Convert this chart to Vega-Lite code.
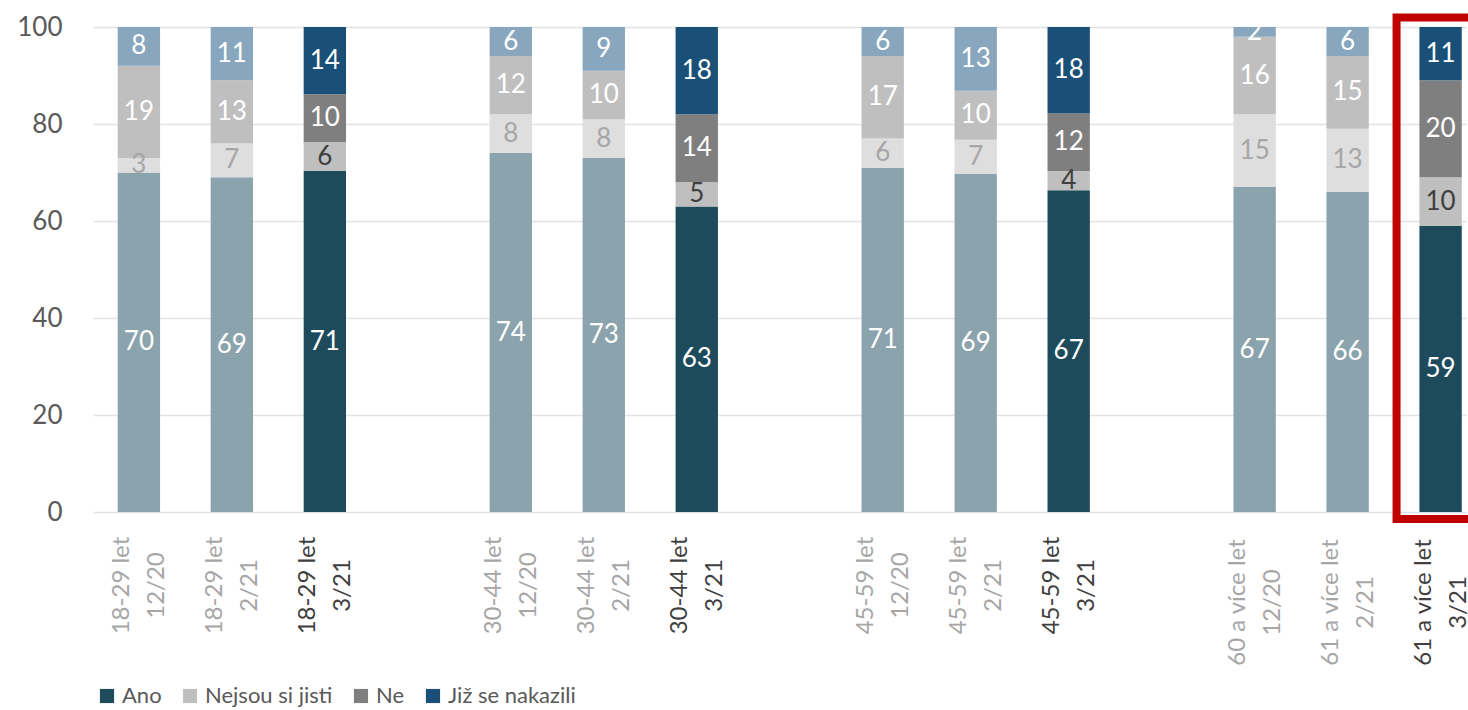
{
  "$schema": "https://vega.github.io/schema/vega-lite/v6.json",
  "width": 1373,
  "height": 485,
  "autosize": {"type": "none"},
  "padding": {"left": 93, "top": 27, "right": 2, "bottom": 198},
  "config": {"font": "Lato", "view": {"stroke": null}},
  "data": {"values": [
    {"g": "18-29 let|12/20", "i": 1, "s": "Ano (dříve)", "v": 70},
    {"g": "18-29 let|12/20", "i": 2, "s": "Nejsou si jisti (dříve)", "v": 3},
    {"g": "18-29 let|12/20", "i": 3, "s": "Ne (dříve)", "v": 19},
    {"g": "18-29 let|12/20", "i": 4, "s": "Již se nakazili (dříve)", "v": 8},
    {"g": "18-29 let|2/21", "i": 1, "s": "Ano (dříve)", "v": 69},
    {"g": "18-29 let|2/21", "i": 2, "s": "Nejsou si jisti (dříve)", "v": 7},
    {"g": "18-29 let|2/21", "i": 3, "s": "Ne (dříve)", "v": 13},
    {"g": "18-29 let|2/21", "i": 4, "s": "Již se nakazili (dříve)", "v": 11},
    {"g": "18-29 let|3/21", "i": 1, "s": "Ano", "v": 71},
    {"g": "18-29 let|3/21", "i": 2, "s": "Nejsou si jisti", "v": 6},
    {"g": "18-29 let|3/21", "i": 3, "s": "Ne", "v": 10},
    {"g": "18-29 let|3/21", "i": 4, "s": "Již se nakazili", "v": 14},
    {"g": "30-44 let|12/20", "i": 1, "s": "Ano (dříve)", "v": 74},
    {"g": "30-44 let|12/20", "i": 2, "s": "Nejsou si jisti (dříve)", "v": 8},
    {"g": "30-44 let|12/20", "i": 3, "s": "Ne (dříve)", "v": 12},
    {"g": "30-44 let|12/20", "i": 4, "s": "Již se nakazili (dříve)", "v": 6},
    {"g": "30-44 let|2/21", "i": 1, "s": "Ano (dříve)", "v": 73},
    {"g": "30-44 let|2/21", "i": 2, "s": "Nejsou si jisti (dříve)", "v": 8},
    {"g": "30-44 let|2/21", "i": 3, "s": "Ne (dříve)", "v": 10},
    {"g": "30-44 let|2/21", "i": 4, "s": "Již se nakazili (dříve)", "v": 9},
    {"g": "30-44 let|3/21", "i": 1, "s": "Ano", "v": 63},
    {"g": "30-44 let|3/21", "i": 2, "s": "Nejsou si jisti", "v": 5},
    {"g": "30-44 let|3/21", "i": 3, "s": "Ne", "v": 14},
    {"g": "30-44 let|3/21", "i": 4, "s": "Již se nakazili", "v": 18},
    {"g": "45-59 let|12/20", "i": 1, "s": "Ano (dříve)", "v": 71},
    {"g": "45-59 let|12/20", "i": 2, "s": "Nejsou si jisti (dříve)", "v": 6},
    {"g": "45-59 let|12/20", "i": 3, "s": "Ne (dříve)", "v": 17},
    {"g": "45-59 let|12/20", "i": 4, "s": "Již se nakazili (dříve)", "v": 6},
    {"g": "45-59 let|2/21", "i": 1, "s": "Ano (dříve)", "v": 69},
    {"g": "45-59 let|2/21", "i": 2, "s": "Nejsou si jisti (dříve)", "v": 7},
    {"g": "45-59 let|2/21", "i": 3, "s": "Ne (dříve)", "v": 10},
    {"g": "45-59 let|2/21", "i": 4, "s": "Již se nakazili (dříve)", "v": 13},
    {"g": "45-59 let|3/21", "i": 1, "s": "Ano", "v": 67},
    {"g": "45-59 let|3/21", "i": 2, "s": "Nejsou si jisti", "v": 4},
    {"g": "45-59 let|3/21", "i": 3, "s": "Ne", "v": 12},
    {"g": "45-59 let|3/21", "i": 4, "s": "Již se nakazili", "v": 18},
    {"g": "60 a více let|12/20", "i": 1, "s": "Ano (dříve)", "v": 67},
    {"g": "60 a více let|12/20", "i": 2, "s": "Nejsou si jisti (dříve)", "v": 15},
    {"g": "60 a více let|12/20", "i": 3, "s": "Ne (dříve)", "v": 16},
    {"g": "60 a více let|12/20", "i": 4, "s": "Již se nakazili (dříve)", "v": 2},
    {"g": "61 a více let|2/21", "i": 1, "s": "Ano (dříve)", "v": 66},
    {"g": "61 a více let|2/21", "i": 2, "s": "Nejsou si jisti (dříve)", "v": 13},
    {"g": "61 a více let|2/21", "i": 3, "s": "Ne (dříve)", "v": 15},
    {"g": "61 a více let|2/21", "i": 4, "s": "Již se nakazili (dříve)", "v": 6},
    {"g": "61 a více let|3/21", "i": 1, "s": "Ano", "v": 59},
    {"g": "61 a více let|3/21", "i": 2, "s": "Nejsou si jisti", "v": 10},
    {"g": "61 a více let|3/21", "i": 3, "s": "Ne", "v": 20},
    {"g": "61 a více let|3/21", "i": 4, "s": "Již se nakazili", "v": 11}
  ]},
  "transform": [
    {"stack": "v", "groupby": ["g"], "sort": [{"field": "i", "order": "ascending"}], "offset": "normalize", "as": ["y0", "y1"]},
    {"calculate": "(datum.y0 + datum.y1) / 2", "as": "ym"}
  ],
  "encoding": {
    "x": {
      "field": "g",
      "type": "nominal",
      "sort": null,
      "scale": {
        "domain": ["18-29 let|12/20", "18-29 let|2/21", "18-29 let|3/21", "gap1",
                   "30-44 let|12/20", "30-44 let|2/21", "30-44 let|3/21", "gap2",
                   "45-59 let|12/20", "45-59 let|2/21", "45-59 let|3/21", "gap3",
                   "60 a více let|12/20", "61 a více let|2/21", "61 a více let|3/21"],
        "paddingInner": 0.5445,
        "paddingOuter": 0.1556,
        "align": 0.854
      },
      "axis": {
        "title": null,
        "domain": false,
        "ticks": false,
        "labelAngle": -90,
        "labelAlign": "center",
        "labelBaseline": "middle",
        "labelOffset": -17,
        "labelPadding": {"condition": {"test": "indexof(datum.value, 'více') >= 0", "value": 90}, "value": 73},
        "labelLineHeight": 35,
        "labelFontSize": 24,
        "labelFont": "Lato",
        "labelOverlap": false,
        "labelLimit": 0,
        "labelExpr": "indexof(datum.value, '|') >= 0 ? split(datum.value, '|') : ''",
        "labelColor": {"condition": {"test": "indexof(datum.value, '3/21') >= 0", "value": "#404040"}, "value": "#A6A6A6"}
      }
    },
    "y": {
      "field": "y0",
      "type": "quantitative",
      "scale": {"domain": [0, 1], "nice": false},
      "axis": {
        "title": null,
        "values": [0, 0.2, 0.4, 0.6, 0.8, 1],
        "labelExpr": "format(datum.value * 100, 'd')",
        "grid": true,
        "gridColor": "#E3E3E3",
        "gridWidth": 1.5,
        "domain": false,
        "ticks": false,
        "labelPadding": 31,
        "labelFontSize": 26,
        "labelFont": "Lato",
        "labelColor": "#595959"
      }
    }
  },
  "layer": [
    {
      "mark": {"type": "bar"},
      "encoding": {
        "y2": {"field": "y1"},
        "color": {
          "field": "s",
          "type": "nominal",
          "scale": {
            "domain": ["Ano", "Nejsou si jisti", "Ne", "Již se nakazili", "Ano (dříve)", "Nejsou si jisti (dříve)", "Ne (dříve)", "Již se nakazili (dříve)"],
            "range": ["#1D4B5C", "#BFBFBF", "#7F7F7F", "#1A5077", "#8BA3AD", "#DEDEDE", "#BFBFBF", "#88A7BE"]
          },
          "legend": {
            "values": ["Ano", "Nejsou si jisti", "Ne", "Již se nakazili"],
            "title": null,
            "orient": "none",
            "legendX": 3,
            "legendY": 658,
            "direction": "horizontal",
            "symbolType": "square",
            "symbolSize": 200,
            "symbolStrokeWidth": 0,
            "labelFontSize": 22,
            "labelFont": "Lato",
            "labelColor": "#595959",
            "columnPadding": 17,
            "labelOffset": 4
          }
        }
      }
    },
    {
      "mark": {"type": "text", "fontSize": 26, "font": "Lato", "align": "center", "baseline": "middle"},
      "encoding": {
        "y": {"field": "ym", "type": "quantitative"},
        "text": {"field": "v", "type": "quantitative"},
        "color": {
          "field": "s",
          "type": "nominal",
          "scale": {
            "domain": ["Ano", "Nejsou si jisti", "Ne", "Již se nakazili", "Ano (dříve)", "Nejsou si jisti (dříve)", "Ne (dříve)", "Již se nakazili (dříve)"],
            "range": ["#FFFFFF", "#404040", "#FFFFFF", "#FFFFFF", "#FFFFFF", "#A6A6A6", "#FFFFFF", "#FFFFFF"]
          },
          "legend": null
        }
      }
    },
    {
      "transform": [{"filter": "datum.g == '61 a více let|3/21' && datum.i == 1"}],
      "mark": {"type": "bar", "filled": false, "stroke": "#C00000", "strokeWidth": 8, "width": {"band": 2.08}, "clip": false},
      "encoding": {
        "y": {"datum": -0.0144, "type": "quantitative"},
        "y2": {"datum": 1.0196}
      }
    }
  ],
  "resolve": {"scale": {"color": "independent"}}
}
